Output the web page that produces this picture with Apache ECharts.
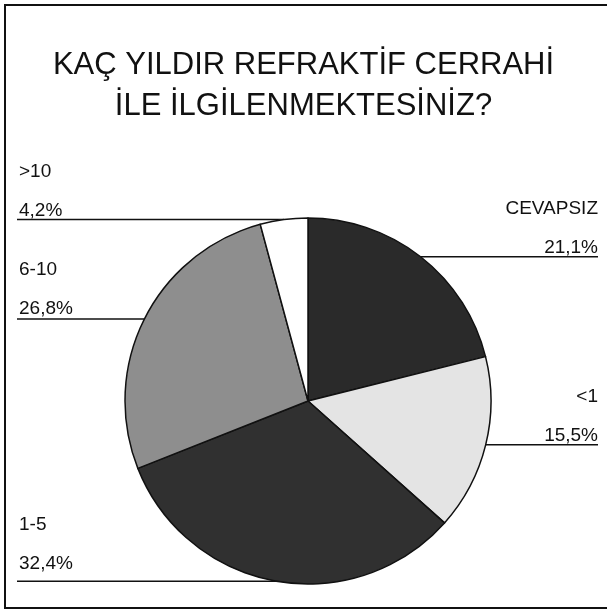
<!DOCTYPE html>
<html>
<head>
<meta charset="utf-8">
<script src="https://cdn.jsdelivr.net/npm/echarts@6/dist/echarts.min.js"></script>
<style>
html,body{margin:0;padding:0;background:#fff;}
#chart{width:607px;height:611px;}
</style>
</head>
<body>
<div id="chart"></div>
<script>
const titleLines = ['KAÇ YILDIR REFRAKTİF CERRAHİ', 'İLE İLGİLENMEKTESİNİZ?'];
const categories = ['CEVAPSIZ', '<1', '1-5', '6-10', '>10'];
const percentages = [21.1, 15.5, 32.4, 26.8, 4.2];
const sliceColors = ['#2a2a2a', '#e4e4e4', '#303030', '#8e8e8e', '#ffffff'];

const chart = echarts.init(document.getElementById('chart'), null, {renderer: 'canvas'});
const W = 607;

const data = categories.map((c, i) => ({
  name: c,
  value: percentages[i],
  itemStyle: {color: sliceColors[i]}
}));

chart.setOption({
  backgroundColor: '#ffffff',
  animation: false,
  title: {
    text: titleLines.join('\n'),
    left: 'center',
    top: 40,
    textStyle: {
      fontFamily: 'Liberation Sans',
      fontSize: 31,
      fontWeight: 'normal',
      lineHeight: 41,
      color: '#111'
    }
  },
  graphic: [{
    type: 'rect',
    shape: {x: 5, y: 5, width: 620, height: 603},
    style: {fill: 'none', stroke: '#111', lineWidth: 2},
    z: 100
  }],
  series: [{
    type: 'pie',
    center: [308, 401],
    radius: 183,
    startAngle: 90,
    clockwise: true,
    data: data,
    itemStyle: {borderColor: '#111', borderWidth: 1.5},
    emphasis: {disabled: true},
    label: {
      show: true,
      alignTo: 'edge',
      edgeDistance: 9,
      fontFamily: 'Liberation Sans',
      color: '#111',
      formatter: p => '{n|' + p.name + '}\n{v|' + String(p.value).replace('.', ',') + '%}',
      rich: {
        n: {fontSize: 19, lineHeight: 56, fontFamily: 'Liberation Sans', color: '#111'},
        v: {fontSize: 19, lineHeight: 22, fontFamily: 'Liberation Sans', color: '#111'}
      }
    },
    labelLine: {
      show: true,
      length: 0,
      length2: 10,
      lineStyle: {color: '#111', width: 1.5}
    },
    labelLayout: function (params) {
      const r = params.labelRect;
      const pts = params.labelLinePoints;
      const isLeft = r.x + r.width / 2 < W / 2;
      const dx = isLeft ? 10 : 0;
      const y0 = pts[0][1];
      const outerX = isLeft ? r.x + dx - 2 : r.x + r.width;
      return {
        dx: dx,
        dy: -r.height / 2 - 8,
        labelLinePoints: [pts[0], [pts[0][0], y0], [outerX, y0]]
      };
    }
  }]
});
</script>
</body>
</html>
